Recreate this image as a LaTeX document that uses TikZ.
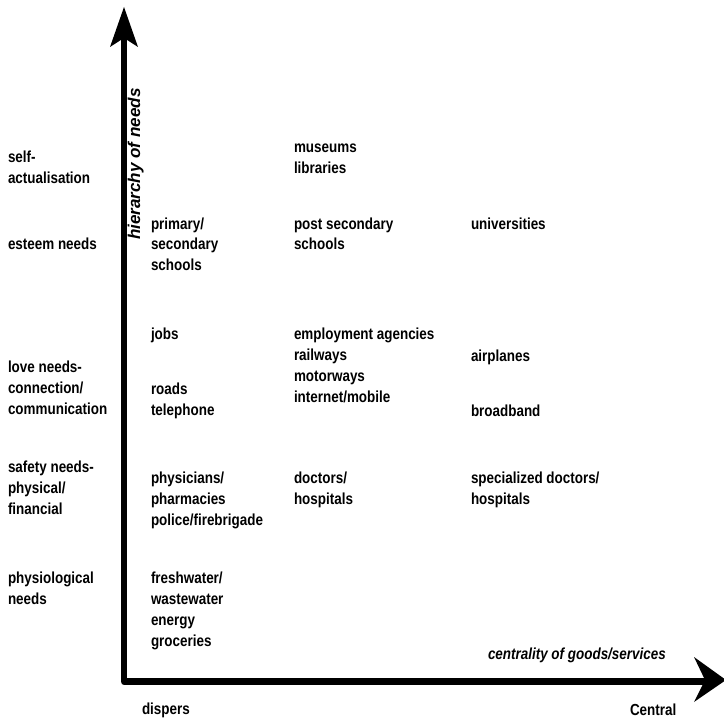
\documentclass[tikz,border=0pt]{standalone}
\usepackage{fontspec}
\setmainfont{Liberation Sans}[FakeStretch=0.84]
\newfontfamily\widefont{Liberation Sans}
\begin{document}
\begin{tikzpicture}[x=0.75pt,y=-0.75pt,
  lbl/.style={anchor=base west, inner sep=0pt, outer sep=0pt, align=left,
    font=\bfseries\fontsize{12}{15.75}\selectfont},
  ital/.style={lbl, font=\bfseries\itshape\fontsize{12}{15.75}\selectfont},
  axis/.style={line width=4.9pt, line join=round, line cap=butt},
  head/.style={fill=black, draw=none}]
\useasboundingbox (0,0) rectangle (724,720);
% axes
\coordinate (vtop) at (124,38);
\coordinate (corner) at (124,681.5);
\coordinate (hend) at (706,681.5);
\draw[axis] (vtop) -- (corner) -- (hend);
\fill[head] (124,7) -- (138,47) -- (124,38) -- (110,47) -- cycle;
\fill[head] (726,680) -- (694,657) -- (705,680) -- (694,702) -- cycle;
% axis labels
\node[lbl, rotate=90, font=\widefont\bfseries\itshape\fontsize{12.8}{15}\selectfont] (yl) at (140,240) {hierarchy of needs};
\node[ital] (xl) at (488,659) {centrality of goods/services};
\node[lbl] (disp) at (142,714) {dispers};
\node[lbl] (cent) at (630,715) {Central};
% left column (anchor = baseline of last line)
\node[lbl] (l1) at (8,184) {self-\\actualisation};
\node[lbl] (l2) at (8,250) {esteem needs};
\node[lbl] (l3) at (8,414) {love needs-\\connection/\\communication};
\node[lbl] (l4) at (8,514) {safety needs-\\physical/\\financial};
\node[lbl] (l5) at (8,604) {physiological\\needs};
% column 2
\node[lbl] (a1) at (151,271) {primary/\\secondary\\schools};
\node[lbl] (a2) at (151,339) {jobs};
\node[lbl] (a3) at (151,415) {roads\\telephone};
\node[lbl] (a4) at (151,525) {physicians/\\pharmacies\\police/firebrigade};
\node[lbl] (a5) at (151,646) {freshwater/\\wastewater\\energy\\groceries};
% column 3
\node[lbl] (b1) at (294,174) {museums\\libraries};
\node[lbl] (b2) at (294,250) {post secondary\\schools};
\node[lbl] (b3) at (294,402) {employment agencies\\railways\\motorways\\internet/mobile};
\node[lbl] (b4) at (294,504) {doctors/\\hospitals};
% column 4
\node[lbl] (c1) at (471,229) {universities};
\node[lbl] (c2) at (471,361) {airplanes};
\node[lbl] (c3) at (471,416) {broadband};
\node[lbl] (c4) at (471,504) {specialized doctors/\\hospitals};
\end{tikzpicture}
\end{document}
